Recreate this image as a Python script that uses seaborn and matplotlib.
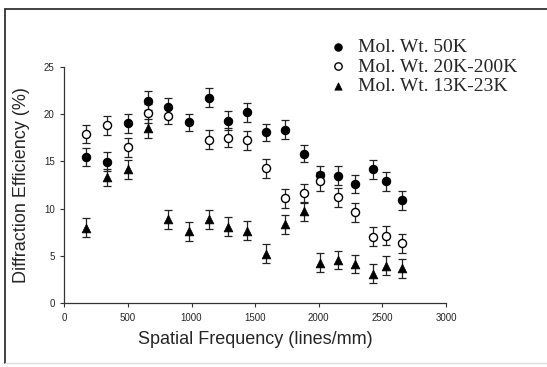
"""
Diffraction efficiency vs spatial frequency
===========================================
"""

# Libraries
import pandas as pd
import seaborn as sns
import matplotlib
matplotlib.use('Agg')
import matplotlib.pyplot as plt
from matplotlib.lines import Line2D

# -----------------------------------
# Configuration
# -----------------------------------
sns.set_style("ticks")
plt.rcParams['font.family'] = ['Liberation Sans', 'DejaVu Sans']

# -----------------------------------
# Data
# -----------------------------------
freq = [170, 337, 500, 659, 815, 980, 1137, 1290, 1438,
        1588, 1737, 1883, 2012, 2150, 2286, 2430, 2531, 2653]

de_50k = [15.45, 14.95, 19.0, 21.4, 20.7, 19.1, 21.7, 19.3, 20.2,
          18.05, 18.35, 15.8, 13.6, 13.45, 12.6, 14.15, 12.9, 10.9]
err_50k = [1.0, 1.0, 1.0, 1.0, 1.0, 0.9, 1.0, 1.0, 1.0,
           0.9, 1.0, 0.9, 0.9, 1.0, 1.0, 1.0, 1.0, 1.0]

de_20k = [17.85, 18.8, 16.5, 20.05, 19.8, None, 17.3, 17.5, 17.2,
          14.25, 11.1, 11.6, 12.9, 11.2, 9.6, 7.05, 7.15, 6.35]
err_20k = [0.95, 1.0, 1.0, 1.0, 0.9, None, 1.0, 1.0, 1.0,
           1.0, 1.0, 1.0, 1.0, 1.0, 1.0, 1.0, 1.0, 1.0]

de_13k = [8.0, 13.3, 14.15, 18.5, 8.87, 7.63, 8.87, 8.1, 7.65,
          5.25, 8.34, 9.7, 4.3, 4.57, 4.15, 3.1, 3.95, 3.7]
err_13k = [1.0, 0.9, 1.0, 1.0, 1.0, 1.0, 1.0, 1.0, 1.0,
           1.0, 1.0, 1.0, 1.0, 1.0, 1.0, 1.0, 1.0, 1.0]

labels = ['Mol. Wt. 50K', 'Mol. Wt. 20K-200K', 'Mol. Wt. 13K-23K']

# Tidy table
data = pd.concat([
    pd.DataFrame({'freq': freq, 'de': de_50k, 'err': err_50k, 'group': labels[0]}),
    pd.DataFrame({'freq': freq, 'de': de_20k, 'err': err_20k, 'group': labels[1]}),
    pd.DataFrame({'freq': freq, 'de': de_13k, 'err': err_13k, 'group': labels[2]}),
]).dropna()

# Marker styles per group
STYLE = {
    labels[0]: dict(marker='o', s=36, facecolor='black', edgecolor='black', linewidth=0.8),
    labels[1]: dict(marker='o', s=34, facecolor='white', edgecolor='black', linewidth=1.0),
    labels[2]: dict(marker='^', s=40, facecolor='black', edgecolor='black', linewidth=0.5),
}

# -----------------------------------
# Plot
# -----------------------------------
fig = plt.figure(figsize=(5.47, 3.67), dpi=100)
ax = fig.add_axes([0.1176, 0.1736, 0.6977, 0.6449])

for g in labels:
    d = data[data.group == g]
    ax.errorbar(d.freq, d.de, yerr=d.err, fmt='none', ecolor='#222222',
                elinewidth=0.9, capsize=2.6, capthick=0.9, zorder=2)
    sns.scatterplot(x=d.freq, y=d.de, ax=ax, label=g, zorder=3, **STYLE[g])

# Axes configuration
ax.set_xlim(0, 3000)
ax.set_ylim(0, 25)
ax.set_xticks(range(0, 3001, 500))
ax.set_yticks(range(0, 26, 5))
ax.tick_params(axis='both', labelsize=7, length=3, width=0.8,
               direction='out', color='#333333', pad=4)
for s in ['left', 'bottom']:
    ax.spines[s].set_linewidth(0.9)
    ax.spines[s].set_color('#333333')
sns.despine(ax=ax)
ax.set_xlabel('Spatial Frequency (lines/mm)', fontsize=13, labelpad=6)
ax.set_ylabel('Diffraction Efficiency (%)', fontsize=13, labelpad=10)

# Legend (above right of the axes)
leg = ax.legend(loc='upper left', bbox_to_anchor=(319 / 547, 1 - 29 / 367),
                bbox_transform=fig.transFigure, frameon=False, borderpad=0,
                handlelength=1.0, handletextpad=0.5, labelspacing=0.08,
                prop={'family': 'Liberation Serif', 'size': 14})
for h in leg.legend_handles:
    h.set_sizes([28])

# Figure frame
fig.add_artist(Line2D([5 / 547, 5 / 547], [1 - 9 / 367, 1 - 363 / 367],
                      transform=fig.transFigure, color='#333333', lw=1.3))
fig.add_artist(Line2D([5 / 547, 1.0], [1 - 9 / 367, 1 - 9 / 367],
                      transform=fig.transFigure, color='#333333', lw=1.3))
fig.add_artist(Line2D([5 / 547, 1.0], [1 - 363 / 367, 1 - 363 / 367],
                      transform=fig.transFigure, color='#dddddd', lw=1.0))

fig.savefig('out.png', dpi=100)
